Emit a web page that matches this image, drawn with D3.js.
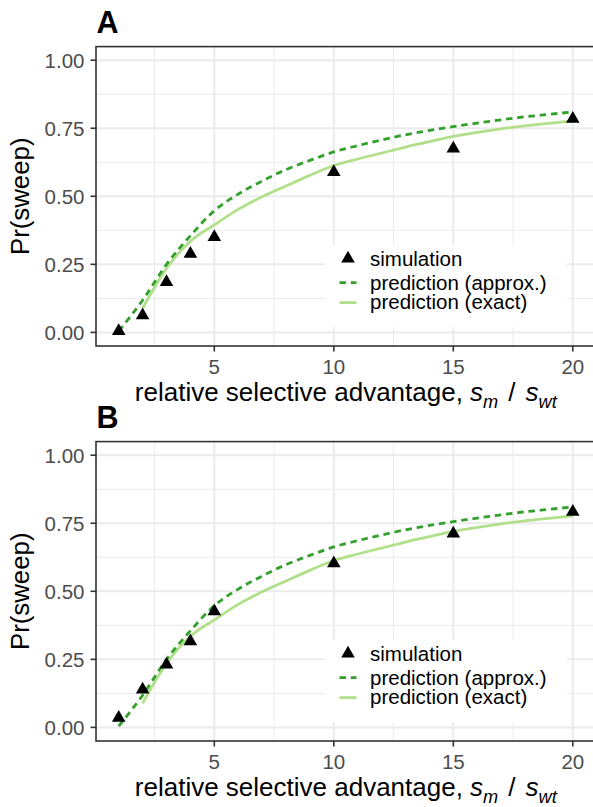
<!DOCTYPE html>
<html>
<head>
<meta charset="utf-8">
<script src="https://cdn.jsdelivr.net/npm/d3@7"></script>
<style>
  html, body { margin: 0; padding: 0; background: #fff; }
  svg { display: block; font-family: "Liberation Sans", Arial, Helvetica, sans-serif; }
</style>
</head>
<body>
<svg id="chart" width="593" height="807"></svg>
<script>
// ---- data ----
const panelTags = ["A", "B"];
const xSim = [1, 2, 3, 4, 5, 10, 15, 20];
const simA = [0.005, 0.063, 0.185, 0.289, 0.35, 0.589, 0.675, 0.785];
const simB = [0.035, 0.139, 0.231, 0.316, 0.426, 0.603, 0.712, 0.792];

const xApprox = [1, 2, 3, 4, 5, 6, 7, 8, 9, 10, 11, 12, 13, 14, 15, 16, 17, 18, 19, 20];
const approxVals = [0.005, 0.118, 0.25, 0.355, 0.447, 0.508, 0.556, 0.598, 0.632, 0.663, 0.686, 0.707, 0.726, 0.742, 0.756, 0.769, 0.781, 0.792, 0.801, 0.81];

const xExact = [2, 3, 4, 5, 6, 7, 8, 9, 10, 11, 12, 13, 14, 15, 16, 17, 18, 19, 20];
const exactVals = [0.088, 0.235, 0.335, 0.395, 0.452, 0.498, 0.538, 0.577, 0.613, 0.637, 0.659, 0.681, 0.701, 0.72, 0.735, 0.748, 0.759, 0.768, 0.777];

const xTicks = [5, 10, 15, 20];
const xMinor = [2.5, 7.5, 12.5, 17.5];
const yTicks = [0, 0.25, 0.5, 0.75, 1];
const yTickLabels = ["0.00", "0.25", "0.50", "0.75", "1.00"];
const yMinor = [0.125, 0.375, 0.625, 0.875];

const legendLabels = ["simulation", "prediction (approx.)", "prediction (exact)"];
const xTitle = "relative selective advantage, ";
const yTitle = "Pr(sweep)";

// ---- styles ----
const colApprox = "#33A02C";
const colExact = "#B2DF8A";
const gridCol = "#EBEBEB";

const svg = d3.select("#chart");

const panelLeft = 96, panelRight = 595.5, panelH = 299.4;
const panelTops = [46.6, 441.6];
const simSets = [simA, simB];

const x = d3.scaleLinear().domain([0.05, 20.95]).range([panelLeft, panelRight]);

function drawPanel(i) {
  const top = panelTops[i];
  const y = d3.scaleLinear().domain([-0.05, 1.05]).range([top + panelH, top]);
  const g = svg.append("g");
  const clipId = "clip" + i;
  svg.append("clipPath").attr("id", clipId)
    .append("rect").attr("x", panelLeft).attr("y", top).attr("width", panelRight - panelLeft).attr("height", panelH);

  const pg = g.append("g").attr("clip-path", `url(#${clipId})`);
  // minor grid
  pg.selectAll(".vminor").data(xMinor).join("line")
    .attr("x1", d => x(d)).attr("x2", d => x(d)).attr("y1", top).attr("y2", top + panelH)
    .attr("stroke", gridCol).attr("stroke-width", 1);
  pg.selectAll(".hminor").data(yMinor).join("line")
    .attr("y1", d => y(d)).attr("y2", d => y(d)).attr("x1", panelLeft).attr("x2", panelRight)
    .attr("stroke", gridCol).attr("stroke-width", 1);
  // major grid
  pg.selectAll(".vmajor").data(xTicks).join("line")
    .attr("x1", d => x(d)).attr("x2", d => x(d)).attr("y1", top).attr("y2", top + panelH)
    .attr("stroke", gridCol).attr("stroke-width", 2);
  pg.selectAll(".hmajor").data(yTicks).join("line")
    .attr("y1", d => y(d)).attr("y2", d => y(d)).attr("x1", panelLeft).attr("x2", panelRight)
    .attr("stroke", gridCol).attr("stroke-width", 2);

  // lines
  const approxData = xApprox.map((v, k) => [v, approxVals[k]]);
  const exactData = xExact.map((v, k) => [v, exactVals[k]]);
  const line = d3.line().x(d => x(d[0])).y(d => y(d[1])).curve(d3.curveMonotoneX);
  pg.append("path").datum(exactData).attr("d", line)
    .attr("fill", "none").attr("stroke", colExact).attr("stroke-width", 2.8);
  pg.append("path").datum(approxData).attr("d", line)
    .attr("fill", "none").attr("stroke", colApprox).attr("stroke-width", 2.8)
    .attr("stroke-dasharray", "6.5,4.8");

  // points
  const sim = simSets[i];
  const tri = d3.symbol().type(d3.symbolTriangle).size(80);
  pg.selectAll(".pt").data(xSim.map((v, k) => [v, sim[k]])).join("path")
    .attr("d", tri)
    .attr("transform", d => `translate(${x(d[0])},${y(d[1])})`)
    .attr("fill", "#000");

  // legend
  const lg = g.append("g");
  lg.append("rect").attr("x", 325).attr("y", top + 198.5).attr("width", 242).attr("height", 82)
    .attr("fill", "#fff");
  const keyX1 = 339.5, keyX2 = 356.5, keyCx = 348, textX = 370;
  lg.append("path").attr("d", tri).attr("transform", `translate(${keyCx},${top + 212})`).attr("fill", "#000");
  lg.append("line").attr("x1", keyX1).attr("x2", keyX2).attr("y1", top + 236).attr("y2", top + 236)
    .attr("stroke", colApprox).attr("stroke-width", 2.8).attr("stroke-dasharray", "6.5,4.8");
  lg.append("line").attr("x1", keyX1).attr("x2", keyX2).attr("y1", top + 256).attr("y2", top + 256)
    .attr("stroke", colExact).attr("stroke-width", 2.8);
  const lBase = [219, 243.5, 262.5];
  lg.selectAll(".lt").data(legendLabels).join("text")
    .attr("x", textX).attr("y", (d, k) => top + lBase[k])
    .attr("font-size", 20.5).attr("fill", "#000").text(d => d);

  // panel border
  g.append("rect").attr("x", panelLeft).attr("y", top).attr("width", panelRight - panelLeft).attr("height", panelH)
    .attr("fill", "none").attr("stroke", "#333333").attr("stroke-width", 1.6);

  // axes ticks
  g.selectAll(".xt").data(xTicks).join("line")
    .attr("x1", d => x(d)).attr("x2", d => x(d)).attr("y1", top + panelH).attr("y2", top + panelH + 5.5)
    .attr("stroke", "#333333").attr("stroke-width", 1.6);
  g.selectAll(".xtl").data(xTicks).join("text")
    .attr("x", d => x(d)).attr("y", top + panelH + 27.5)
    .attr("text-anchor", "middle").attr("font-size", 20.5).attr("fill", "#4D4D4D").text(d => d);
  g.selectAll(".yt").data(yTicks).join("line")
    .attr("x1", panelLeft - 5.5).attr("x2", panelLeft).attr("y1", d => y(d)).attr("y2", d => y(d))
    .attr("stroke", "#333333").attr("stroke-width", 1.6);
  g.selectAll(".ytl").data(yTicks).join("text")
    .attr("x", 84.5).attr("y", d => y(d) + 7.4)
    .attr("text-anchor", "end").attr("font-size", 20.5).attr("fill", "#4D4D4D")
    .text((d, k) => yTickLabels[k]);

  // axis titles
  const xt = g.append("text").attr("x", (panelLeft + panelRight) / 2).attr("y", top + 354.5)
    .attr("text-anchor", "middle").attr("font-size", 26).attr("fill", "#000");
  xt.append("tspan").text(xTitle);
  xt.append("tspan").attr("font-style", "italic").text("s");
  xt.append("tspan").attr("font-style", "italic").attr("font-size", 18.2).attr("dy", 7).text("m");
  xt.append("tspan").attr("dy", -7).attr("dx", 10).text("/");
  xt.append("tspan").attr("font-style", "italic").attr("dx", 10).text("s");
  xt.append("tspan").attr("font-style", "italic").attr("font-size", 18.2).attr("dy", 7).text("wt");

  g.append("text")
    .attr("transform", `translate(29,${top + panelH / 2}) rotate(-90)`)
    .attr("text-anchor", "middle").attr("font-size", 25.8).attr("fill", "#000").text(yTitle);

  // tag
  g.append("text").attr("x", 96.5).attr("y", top - 13.3)
    .attr("font-size", 30.5).attr("font-weight", "bold").attr("fill", "#000").text(panelTags[i]);
}

drawPanel(0);
drawPanel(1);
</script>
</body>
</html>
